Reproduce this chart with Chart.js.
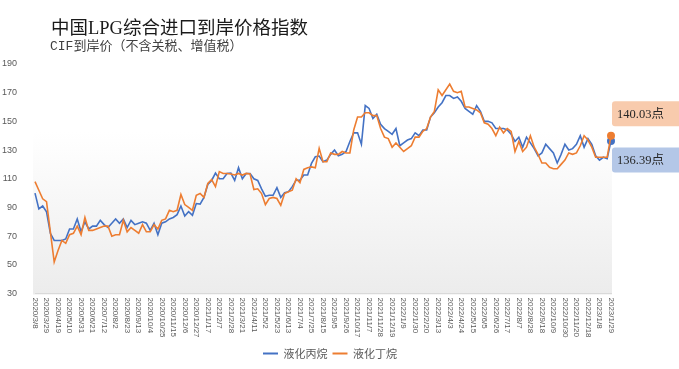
<!DOCTYPE html>
<html><head><meta charset="utf-8">
<script src="https://cdn.jsdelivr.net/npm/chart.js@4.4.0/dist/chart.umd.min.js"></script>
<style>
html,body{margin:0;padding:0;background:#fff;}
#wrap{position:relative;width:679px;height:369px;overflow:hidden;}
canvas{position:absolute;left:0;top:0;}
#title{position:absolute;left:51px;top:19px;font-size:18.5px;font-family:"Liberation Serif","Noto Sans CJK SC";color:#1a1a1a;white-space:nowrap;line-height:1;}
#sub{position:absolute;left:50px;top:40px;font-size:13px;font-family:"Liberation Mono","Noto Sans CJK SC";color:#404040;white-space:nowrap;line-height:1;}
</style></head><body>
<div id="wrap"><canvas id="c" width="679" height="369"></canvas>
<div id="title">中国LPG综合进口到岸价格指数</div>
<div id="sub">CIF到岸价（不含关税、增值税）</div></div>
<script>
const dates = ['2020/3/8','2020/3/15','2020/3/22','2020/3/29','2020/4/5','2020/4/12','2020/4/19','2020/4/26','2020/5/3','2020/5/10','2020/5/17','2020/5/24','2020/5/31','2020/6/7','2020/6/14','2020/6/21','2020/6/28','2020/7/5','2020/7/12','2020/7/19','2020/7/26','2020/8/2','2020/8/9','2020/8/16','2020/8/23','2020/8/30','2020/9/6','2020/9/13','2020/9/20','2020/9/27','2020/10/4','2020/10/11','2020/10/18','2020/10/25','2020/11/1','2020/11/8','2020/11/15','2020/11/22','2020/11/29','2020/12/6','2020/12/13','2020/12/20','2020/12/27',
'2021/1/3','2021/1/10','2021/1/17','2021/1/24','2021/1/31','2021/2/7','2021/2/14','2021/2/21','2021/2/28','2021/3/7','2021/3/14','2021/3/21','2021/3/28','2021/4/4','2021/4/11','2021/4/18','2021/4/25','2021/5/2','2021/5/9','2021/5/16','2021/5/23','2021/5/30','2021/6/6','2021/6/13','2021/6/20','2021/6/27','2021/7/4','2021/7/11','2021/7/18','2021/7/25','2021/8/1','2021/8/8','2021/8/15','2021/8/22','2021/8/29','2021/9/5','2021/9/12','2021/9/19','2021/9/26','2021/10/3','2021/10/10','2021/10/17','2021/10/24','2021/10/31','2021/11/7','2021/11/14','2021/11/21','2021/11/28','2021/12/5','2021/12/12','2021/12/19','2021/12/26',
'2022/1/2','2022/1/9','2022/1/16','2022/1/23','2022/1/30','2022/2/6','2022/2/13','2022/2/20','2022/2/27','2022/3/6','2022/3/13','2022/3/20','2022/3/27','2022/4/3','2022/4/10','2022/4/17','2022/4/24','2022/5/1','2022/5/8','2022/5/15','2022/5/22','2022/5/29','2022/6/5','2022/6/12','2022/6/19','2022/6/26','2022/7/3','2022/7/10','2022/7/17','2022/7/24','2022/7/31','2022/8/7','2022/8/14','2022/8/21','2022/8/28','2022/9/4','2022/9/11','2022/9/18','2022/9/25','2022/10/2','2022/10/9','2022/10/16','2022/10/23','2022/10/30','2022/11/6','2022/11/13','2022/11/20','2022/11/27','2022/12/4','2022/12/18','2022/12/25',
'2023/1/1','2023/1/8','2023/1/15','2023/1/22','2023/1/29'];

const propane = [100,89,91,87,72,67,67,67,68,75,
 75,82,73,80,75,77,77,81,78,76,
 79,82,79,82,76,81,78,79,80,79,
 74,79,71,79,80,82,83,85,91,84,
 87,84.5,92.7,92.3,97,106,108.8,114,110,110,
 113.7,114,108.8,117.7,110,113.7,113.7,110,108.8,103,
 97.8,98.5,98.5,103.8,97,100.2,101,104.5,109,109,
 112.6,112.6,120.7,125.3,125.8,121.8,123,127,130,126,
 127,129,136,142,142,134,161,159,152,155,
 148,145,143,141,145,133,135,137,138,142,
 140,144,144,153,156,160,163,168,168,166,
 167,164,159,157,155,161,157,150,150,149,
 145,145,145,144,141,136,139,132,139,135,
 131,126,128,134,131,128,121,127,134,130,
 131,134,140,132,138,134,126,123,125,124,
 136.39];

const butane = [108,102,96,94,73,52,60,67,65,71,
 72,77,71,83,74,74,75,76,77,77,
 70,71,71,81,73,76,74,72,78,73,
 73,78,75,81,82,88,87,88,99,92,
 90,88,98.5,99.7,97,106.7,109.4,104.5,115,113.7,
 113.7,113.3,112.6,113.7,112.6,113.7,113.3,102.5,103,99.7,
 92,96.2,97,96.2,91.5,99.7,101,102,110,107.2,
 116.5,117.7,118.3,117.7,131.2,121.8,121.8,128,127,127,
 129,128,128,144,153,153,156,156,154,154,
 145,139,138,132,135,132,129,131,133,139,
 139,143,145,153,157,172,168,172,176,171,
 170,171,160,160,159,158,156,149,148,145,
 140,146,142,145,143,129,136,129,132,140,
 132,127,121,121,118,117,117,120,123,128,
 127,128,133,140,137,132,125,125,125,125,
 140.03];

const seriesNames = ['液化丙烷','液化丁烷'];
const yMin = 30, yMax = 190, yStep = 20;
const labelEvery = 3;
const unitSuffix = '点';

const COLORS = ['#4472c4', '#ed7d31'];
const BOX_FILLS = ['#b4c7e7', '#f8cbad'];
const BOX_DY = [19, -22];

const bgPlugin = {
  id: 'bg',
  beforeDraw(chart) {
    const {ctx, chartArea: a} = chart;
    const top = 132;
    const g = ctx.createLinearGradient(0, top, 0, a.bottom);
    g.addColorStop(0, '#ffffff');
    g.addColorStop(1, '#ececec');
    ctx.save();
    ctx.fillStyle = g;
    ctx.fillRect(a.left - 2, top, a.right - a.left + 3, a.bottom - top + 1);
    ctx.restore();
  }
};

const legendShift = {
  id: 'legendShift',
  afterLayout(chart) {
    if (chart.legend) { chart.legend.left += 7; chart.legend.right += 7; }
  }
};

const xLabelPlugin = {
  id: 'xlabels',
  afterDraw(chart) {
    const {ctx, scales: {x}, chartArea: a} = chart;
    ctx.save();
    ctx.font = '8px "Liberation Sans"';
    ctx.fillStyle = '#595959';
    ctx.textAlign = 'left';
    ctx.textBaseline = 'middle';
    dates.forEach((d, i) => {
      if (i % labelEvery) return;
      const px = x.getPixelForValue(i);
      ctx.save();
      ctx.translate(px, a.bottom + 4);
      ctx.rotate(Math.PI / 2);
      ctx.fillText(d, 0, 0);
      ctx.restore();
    });
    ctx.restore();
  }
};

const endLabelPlugin = {
  id: 'endlabels',
  afterDatasetsDraw(chart) {
    const {ctx, scales: {y}, chartArea: a} = chart;
    ctx.save();
    chart.data.datasets.forEach((ds, di) => {
      const v = ds.data[ds.data.length - 1];
      const cy = y.getPixelForValue(v) + BOX_DY[di];
      const bx = a.right + 1, bh = 25, bw = 80;
      ctx.fillStyle = BOX_FILLS[di];
      ctx.beginPath();
      ctx.roundRect(bx, cy - bh / 2, bw, bh, 3);
      ctx.fill();
      ctx.fillStyle = '#262626';
      ctx.font = '12.5px "Liberation Serif","Noto Sans CJK SC"';
      ctx.textAlign = 'left';
      ctx.textBaseline = 'middle';
      ctx.fillText(v.toFixed(2) + unitSuffix, bx + 5, cy + 1);
    });
    ctx.restore();
  }
};

const lastR = (n) => (c) => c.dataIndex === n - 1 ? 3 : 0;

new Chart(document.getElementById('c'), {
  type: 'line',
  data: {
    labels: dates,
    datasets: [
      {label: seriesNames[0], data: propane, borderColor: COLORS[0], backgroundColor: COLORS[0],
       pointBackgroundColor: COLORS[0], pointBorderColor: COLORS[0], pointBorderWidth: 2,
       borderWidth: 1.6, pointRadius: lastR(propane.length), pointHoverRadius: 0, tension: 0, fill: false, order: 1},
      {label: seriesNames[1], data: butane, borderColor: COLORS[1], backgroundColor: COLORS[1],
       pointBackgroundColor: COLORS[1], pointBorderColor: COLORS[1], pointBorderWidth: 2,
       borderWidth: 1.6, pointRadius: lastR(butane.length), pointHoverRadius: 0, tension: 0, fill: false, order: 0}
    ]
  },
  options: {
    responsive: false,
    animation: false,
    devicePixelRatio: 1,
    layout: {padding: {left: 0, right: 68, top: 64, bottom: 0}},
    scales: {
      x: {
        type: 'category', offset: false,
        grid: {display: false},
        border: {display: true, color: '#d9d9d9', width: 1},
        ticks: {display: false},
        afterFit(s) { s.height = 49.5; }
      },
      y: {
        min: yMin, max: yMax,
        ticks: {stepSize: yStep, padding: 10, color: '#595959', font: {size: 9, family: 'Liberation Sans'}},
        grid: {display: false},
        border: {display: false},
        afterFit(s) { s.width = 35; }
      }
    },
    plugins: {
      legend: {
        position: 'bottom', fullSize: false,
        labels: {
          usePointStyle: true, pointStyle: 'line', pointStyleWidth: 15,
          padding: 5, color: '#595959',
          font: {size: 11, family: '"Noto Sans CJK SC"'},
          sort: (a, b) => a.datasetIndex - b.datasetIndex
        }
      },
      tooltip: {enabled: false}
    }
  },
  plugins: [bgPlugin, legendShift, xLabelPlugin, endLabelPlugin]
});
</script>
</body></html>
